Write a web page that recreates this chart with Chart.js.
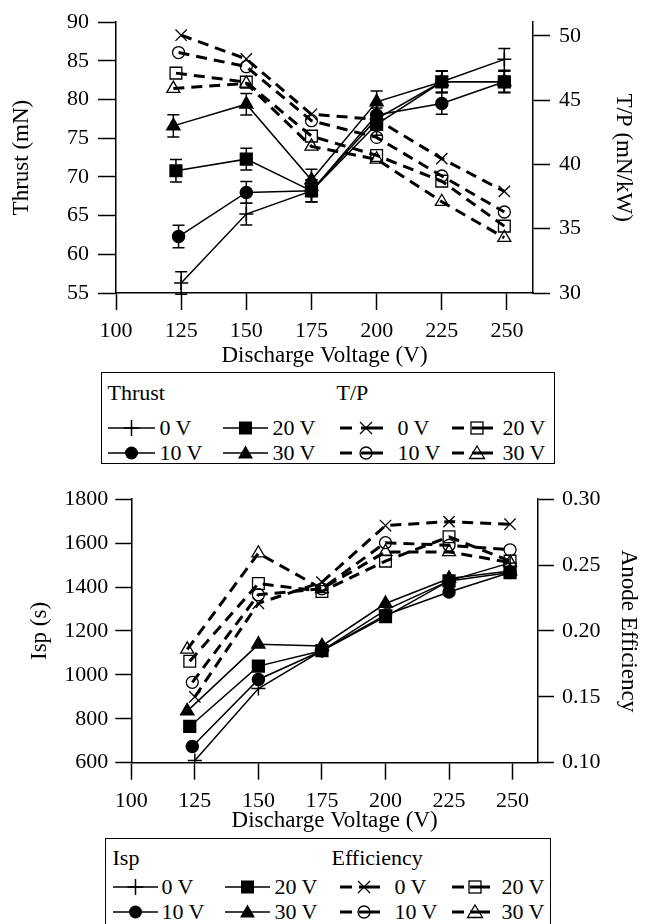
<!DOCTYPE html>
<html>
<head>
<meta charset="utf-8">
<script src="https://cdn.jsdelivr.net/npm/chart.js@4.4.1/dist/chart.umd.min.js"></script>
<style>
body { margin: 0; background: #fff; width: 649px; height: 924px; overflow: hidden; position: relative; font-family: "Liberation Serif", "Times New Roman", serif; }
.wrap { position: absolute; left: 0; width: 649px; }
.legend { position: absolute; border: 1.5px solid #000; box-sizing: border-box; background: #fff; }
.legend span { position: absolute; font-size: 22px; line-height: 24px; white-space: nowrap; color: #000; }
.legend svg { position: absolute; overflow: visible; }
</style>
</head>
<body>
<div class="wrap" style="top:0;height:370px"><canvas id="topChart"></canvas></div>
<div class="wrap" style="top:478px;height:357px"><canvas id="bottomChart"></canvas></div>
<div class="legend" id="legendTop" style="left:101px;top:372px;width:454px;height:92px"></div>
<div class="legend" id="legendBottom" style="left:105px;top:838px;width:446px;height:100px"></div>
<script>
'use strict';

// discharge voltage of each point, per bias voltage series
const volts0 = [125, 150, 175, 200, 225, 249];
const volts10 = [124, 150, 175, 200, 225, 249];
const volts20 = [123, 150, 175, 200, 225, 249];
const volts30 = [122, 150, 175, 200, 225, 249];
const voltTicks = [100, 125, 150, 175, 200, 225, 250];

// top chart: thrust (mN) and thrust-to-power (mN/kW)
const thrust0 = [56.3, 65.2, 68.2, 77.5, 82.3, 85.2];
const thrust10 = [62.3, 68.0, 68.2, 78.0, 79.5, 82.3];
const thrust20 = [70.8, 72.3, 68.2, 76.8, 82.3, 82.3];
const thrust30 = [76.6, 79.4, 69.6, 79.7, 82.3, 82.3];
const thrustErr = [1.45, 1.4, 1.4, 1.4, 1.4, 1.4];
const tp0 = [50.05, 48.2, 43.9, 43.5, 40.45, 37.9];
const tp10 = [48.7, 47.6, 43.4, 42.1, 39.1, 36.3];
const tp20 = [47.1, 46.4, 42.2, 40.7, 38.7, 35.2];
const tp30 = [45.9, 46.3, 41.4, 40.4, 37.1, 34.3];
const thrustTicks = [55, 60, 65, 70, 75, 80, 85, 90];
const tpTicks = [30, 35, 40, 45, 50];

// bottom chart: specific impulse (s) and anode efficiency
const isp0 = [610, 938, 1110, 1295, 1428, 1510];
const isp10 = [674, 979, 1110, 1273, 1377, 1466];
const isp20 = [765, 1040, 1110, 1265, 1428, 1466];
const isp30 = [835, 1139, 1132, 1325, 1439, 1473];
const eff0 = [0.150, 0.221, 0.237, 0.280, 0.283, 0.281];
const eff10 = [0.161, 0.2275, 0.232, 0.267, 0.265, 0.2616];
const eff20 = [0.177, 0.236, 0.230, 0.253, 0.2715, 0.253];
const eff30 = [0.186, 0.259, 0.232, 0.260, 0.260, 0.252];
const ispTicks = [600, 800, 1000, 1200, 1400, 1600, 1800];
const effTicks = [0.10, 0.15, 0.20, 0.25, 0.30];

const FONT = '"Liberation Serif", "Times New Roman", serif';

function pts(xs, ys) {
  return xs.map((x, i) => ({ x: x, y: ys[i] }));
}

function solidSet(label, xs, ys, style, radius, errors) {
  return {
    label: label, data: pts(xs, ys), yAxisID: 'y', errors: errors,
    borderColor: '#000', borderWidth: 1.5, tension: 0, fill: false,
    pointStyle: style, pointRadius: radius, pointHoverRadius: radius,
    pointBackgroundColor: '#000', pointBorderColor: '#000', pointBorderWidth: 1.5
  };
}

function dashSet(label, xs, ys, style, radius) {
  return {
    label: label, data: pts(xs, ys), yAxisID: 'y2',
    borderColor: '#000', borderWidth: 3, borderDash: [11, 7], tension: 0, fill: false,
    pointStyle: style, pointRadius: radius, pointHoverRadius: radius,
    pointBackgroundColor: 'rgba(0,0,0,0)', pointBorderColor: '#000', pointBorderWidth: 1.3
  };
}

function yAxis(pos, min, max, ticks, title, width, tickLen, tickPad, titlePad, digits) {
  return {
    type: 'linear', position: pos, min: min, max: max,
    afterBuildTicks: a => { a.ticks = ticks.map(v => ({ value: v })); },
    afterFit: a => { a.width = width; },
    grid: { drawOnChartArea: false, tickLength: tickLen, tickWidth: 1.5, tickColor: '#000' },
    border: { display: true, color: '#000', width: 1.5 },
    ticks: { color: '#000', padding: tickPad, font: { family: FONT, size: 22 }, callback: v => v.toFixed(digits) },
    title: { display: true, text: title, color: '#000', font: { family: FONT, size: 23 }, padding: { top: titlePad, bottom: 0 } }
  };
}

function xAxis(height, titlePad) {
  return {
    type: 'linear', position: 'bottom', min: 100, max: 260,
    afterBuildTicks: a => { a.ticks = voltTicks.map(v => ({ value: v })); },
    afterFit: a => { a.height = height; },
    grid: { drawOnChartArea: false, tickLength: 17, tickWidth: 1.5, tickColor: '#000' },
    border: { display: true, color: '#000', width: 1.5 },
    ticks: { color: '#000', padding: 8, maxRotation: 0, font: { family: FONT, size: 22 }, callback: v => String(v) },
    title: { display: true, text: 'Discharge Voltage (V)', color: '#000', font: { family: FONT, size: 23 }, padding: { top: 0, bottom: titlePad } }
  };
}

const errorBars = {
  id: 'errorBars',
  afterDatasetsDraw(chart) {
    const ctx = chart.ctx;
    const ys = chart.scales.y;
    chart.data.datasets.forEach((ds, i) => {
      if (!ds.errors) return;
      const meta = chart.getDatasetMeta(i);
      meta.data.forEach((p, j) => {
        const v = ds.data[j].y;
        const e = ds.errors[j];
        const y1 = ys.getPixelForValue(v + e);
        const y2 = ys.getPixelForValue(v - e);
        ctx.save();
        ctx.strokeStyle = '#000';
        ctx.lineWidth = 1.5;
        ctx.beginPath();
        ctx.moveTo(p.x, y1); ctx.lineTo(p.x, y2);
        ctx.moveTo(p.x - 6, y1); ctx.lineTo(p.x + 6, y1);
        ctx.moveTo(p.x - 6, y2); ctx.lineTo(p.x + 6, y2);
        ctx.stroke();
        ctx.restore();
      });
    });
  }
};

const baseOptions = {
  responsive: true, maintainAspectRatio: false, animation: false,
  plugins: { legend: { display: false }, tooltip: { enabled: false } }
};

new Chart(document.getElementById('topChart'), {
  type: 'line',
  data: {
    datasets: [
      solidSet('Thrust 0 V', volts0, thrust0, 'cross', 7, thrustErr),
      solidSet('Thrust 10 V', volts10, thrust10, 'circle', 6, thrustErr),
      solidSet('Thrust 20 V', volts20, thrust20, 'rect', 8.3, thrustErr),
      solidSet('Thrust 30 V', volts30, thrust30, 'triangle', 7.5, thrustErr),
      dashSet('T/P 0 V', volts0, tp0, 'crossRot', 8),
      dashSet('T/P 10 V', volts10, tp10, 'circle', 6),
      dashSet('T/P 20 V', volts20, tp20, 'rect', 8.3),
      dashSet('T/P 30 V', volts30, tp30, 'triangle', 7.5)
    ]
  },
  options: Object.assign({}, baseOptions, {
    layout: { padding: { top: 15, left: 0, right: 0, bottom: 0 } },
    scales: {
      x: xAxis(77, 0),
      y: yAxis('left', 55, 90, thrustTicks, 'Thrust (mN)', 116, 18, 9, 8, 0),
      y2: yAxis('right', 30, 30 + 20 * 278 / 264, tpTicks, 'T/P (mN/kW)', 116, 17, 9, 12, 0)
    }
  }),
  plugins: [errorBars]
});

new Chart(document.getElementById('bottomChart'), {
  type: 'line',
  data: {
    datasets: [
      solidSet('Isp 0 V', volts0, isp0, 'cross', 7),
      solidSet('Isp 10 V', volts10, isp10, 'circle', 6),
      solidSet('Isp 20 V', volts20, isp20, 'rect', 8.3),
      solidSet('Isp 30 V', volts30, isp30, 'triangle', 7.5),
      dashSet('Efficiency 0 V', volts0, eff0, 'crossRot', 8),
      dashSet('Efficiency 10 V', volts10, eff10, 'circle', 6),
      dashSet('Efficiency 20 V', volts20, eff20, 'rect', 8.3),
      dashSet('Efficiency 30 V', volts30, eff30, 'triangle', 7.5)
    ]
  },
  options: Object.assign({}, baseOptions, {
    layout: { padding: { top: 15.3, left: 0, right: 0, bottom: 0 } },
    scales: {
      x: xAxis(72.3, 0),
      y: yAxis('left', 600, 1800, ispTicks, 'Isp (s)', 131.3, 16, 7, 26, 0),
      y2: yAxis('right', 0.10, 0.30, effTicks, 'Anode Efficiency', 111, 16, 8, 7, 2)
    }
  })
});

// ---- legends (html boxes with small svg symbols) ----
function markerSvg(m, cx, cy) {
  const s = 'stroke="#000"';
  switch (m) {
    case 'plus': return `<path d="M${cx - 8} ${cy}H${cx + 8}M${cx} ${cy - 8}V${cy + 8}" ${s} stroke-width="1.5"/>`;
    case 'dot': return `<circle cx="${cx}" cy="${cy}" r="6.5" fill="#000"/>`;
    case 'sq': return `<rect x="${cx - 6.5}" y="${cy - 6.5}" width="13" height="13" fill="#000"/>`;
    case 'tri': return `<path d="M${cx} ${cy - 7.5}L${cx + 7.5} ${cy + 5.5}L${cx - 7.5} ${cy + 5.5}Z" fill="#000"/>`;
    case 'x': return `<path d="M${cx - 6} ${cy - 6}L${cx + 6} ${cy + 6}M${cx - 6} ${cy + 6}L${cx + 6} ${cy - 6}" ${s} stroke-width="1.3"/>`;
    case 'ring': return `<circle cx="${cx}" cy="${cy}" r="6" fill="none" ${s} stroke-width="1.3"/>`;
    case 'box': return `<rect x="${cx - 6}" y="${cy - 6}" width="12" height="12" fill="none" ${s} stroke-width="1.3"/>`;
    case 'open': return `<path d="M${cx} ${cy - 7}L${cx + 7.5} ${cy + 5.5}L${cx - 7.5} ${cy + 5.5}Z" fill="none" ${s} stroke-width="1.3"/>`;
  }
  return '';
}

function buildLegend(el, boxLeft, boxTop, heads, items) {
  let html = '';
  heads.forEach(h => {
    html += `<span style="left:${h.x - boxLeft - 1.5}px;top:${h.y - boxTop - 13.5}px">${h.text}</span>`;
  });
  items.forEach(it => {
    const w = it.x1 - it.x0;
    const cy = 12;
    let body;
    if (it.dashed) {
      const mx = Math.round(w * 0.6);
      body = `<path d="M0 ${cy}H12M${mx - 5} ${cy}H${w}" stroke="#000" stroke-width="3"/>` + markerSvg(it.m, mx, cy);
    } else {
      body = `<path d="M0 ${cy}H${w}" stroke="#000" stroke-width="1.5"/>` + markerSvg(it.m, w / 2, cy);
    }
    html += `<svg width="${w}" height="24" style="left:${it.x0 - boxLeft - 1.5}px;top:${it.y - boxTop - 13.5}px">${body}</svg>`;
    html += `<span style="left:${it.tx - boxLeft - 1.5}px;top:${it.y - boxTop - 13.5}px">${it.text}</span>`;
  });
  el.innerHTML = html;
}

buildLegend(document.getElementById('legendTop'), 101, 372,
  [{ text: 'Thrust', x: 108, y: 393 }, { text: 'T/P', x: 337, y: 393 }],
  [
    { m: 'plus', text: '0 V', x0: 108, x1: 155, tx: 160, y: 428 },
    { m: 'dot', text: '10 V', x0: 108, x1: 155, tx: 160, y: 453 },
    { m: 'sq', text: '20 V', x0: 223, x1: 268, tx: 273, y: 428 },
    { m: 'tri', text: '30 V', x0: 223, x1: 268, tx: 273, y: 453 },
    { m: 'x', dashed: true, text: '0 V', x0: 340, x1: 383, tx: 398, y: 428 },
    { m: 'ring', dashed: true, text: '10 V', x0: 340, x1: 383, tx: 398, y: 453 },
    { m: 'box', dashed: true, text: '20 V', x0: 452, x1: 493, tx: 503, y: 428 },
    { m: 'open', dashed: true, text: '30 V', x0: 452, x1: 493, tx: 503, y: 453 }
  ]);

buildLegend(document.getElementById('legendBottom'), 105, 838,
  [{ text: 'Isp', x: 113, y: 858 }, { text: 'Efficiency', x: 332, y: 858 }],
  [
    { m: 'plus', text: '0 V', x0: 113, x1: 158, tx: 162, y: 887 },
    { m: 'dot', text: '10 V', x0: 113, x1: 158, tx: 162, y: 912 },
    { m: 'sq', text: '20 V', x0: 225, x1: 270, tx: 275, y: 887 },
    { m: 'tri', text: '30 V', x0: 225, x1: 270, tx: 275, y: 912 },
    { m: 'x', dashed: true, text: '0 V', x0: 340, x1: 380, tx: 395, y: 887 },
    { m: 'ring', dashed: true, text: '10 V', x0: 340, x1: 380, tx: 395, y: 912 },
    { m: 'box', dashed: true, text: '20 V', x0: 452, x1: 490, tx: 502, y: 887 },
    { m: 'open', dashed: true, text: '30 V', x0: 452, x1: 490, tx: 502, y: 912 }
  ]);
</script>
</body>
</html>
